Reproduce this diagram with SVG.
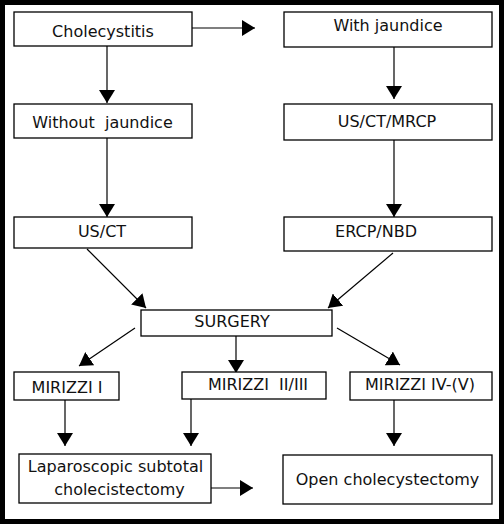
<svg xmlns="http://www.w3.org/2000/svg" width="504" height="526" viewBox="0 0 504 526">
<defs>
<marker id="ah" markerUnits="userSpaceOnUse" markerWidth="14" markerHeight="16" refX="13" refY="8" orient="auto" viewBox="0 0 14 16">
<path d="M0,0 L13,8 L0,16 Z" fill="#000"/>
</marker>
<style>
.box{fill:#fff;stroke:#000;stroke-width:1.3}
.t{font-family:"DejaVu Sans",Verdana,sans-serif;font-size:16px;fill:#111;text-anchor:middle}
.c line{stroke:#000;stroke-width:1.2;marker-end:url(#ah)}
</style>
</defs>
<rect x="0" y="0" width="504" height="526" fill="#fff"/>
<rect x="2.5" y="2.5" width="499" height="519" fill="none" stroke="#000" stroke-width="5"/>
<g class="c" id="connectors">
<line x1="192" y1="28" x2="255" y2="28"/>
<line x1="107" y1="46" x2="107" y2="103"/>
<line x1="394" y1="47" x2="394" y2="99"/>
<line x1="107" y1="138" x2="107" y2="217"/>
<line x1="394" y1="140" x2="394" y2="217"/>
<line x1="87" y1="249" x2="146" y2="308"/>
<line x1="393" y1="253" x2="328" y2="308"/>
<line x1="135" y1="328" x2="79" y2="366"/>
<line x1="236" y1="336" x2="236" y2="373"/>
<line x1="337" y1="328" x2="400" y2="365"/>
<line x1="65" y1="400" x2="65" y2="446"/>
<line x1="191" y1="399" x2="191" y2="446"/>
<line x1="394" y1="400" x2="394" y2="446"/>
<line x1="211" y1="488" x2="253" y2="488"/>
</g>
<g id="n1"><rect class="box" x="14" y="12" width="178" height="34"/><text class="t" x="103" y="37">Cholecystitis</text></g>
<g id="n2"><rect class="box" x="284" y="12" width="208" height="35"/><text class="t" x="388" y="31">With jaundice</text></g>
<g id="n3"><rect class="box" x="14" y="104" width="178" height="34"/><text class="t" x="102.5" y="128" xml:space="preserve">Without  jaundice</text></g>
<g id="n4"><rect class="box" x="284" y="104" width="208" height="36"/><text class="t" x="387" y="127">US/CT/MRCP</text></g>
<g id="n5"><rect class="box" x="14" y="217" width="178" height="31"/><text class="t" x="102" y="237">US/CT</text></g>
<g id="n6"><rect class="box" x="284" y="217" width="208" height="34"/><text class="t" x="376" y="237">ERCP/NBD</text></g>
<g id="n7"><rect class="box" x="141" y="310" width="191" height="26"/><text class="t" x="232" y="327">SURGERY</text></g>
<g id="n8"><rect class="box" x="14" y="372" width="105" height="28"/><text class="t" x="67" y="393">MIRIZZI I</text></g>
<g id="n9"><rect class="box" x="182" y="372" width="144" height="27"/><text class="t" x="258" y="390" xml:space="preserve">MIRIZZI  II/III</text></g>
<g id="n10"><rect class="box" x="350" y="372" width="142" height="28"/><text class="t" x="420" y="390">MIRIZZI IV-(V)</text></g>
<g id="n11"><rect class="box" x="19" y="454" width="192" height="49"/><text class="t" x="115.5" y="472">Laparoscopic subtotal</text><text class="t" x="119.5" y="495">cholecistectomy</text></g>
<g id="n12"><rect class="box" x="283" y="455" width="209" height="49"/><text class="t" x="387.5" y="485">Open cholecystectomy</text></g>
</svg>
